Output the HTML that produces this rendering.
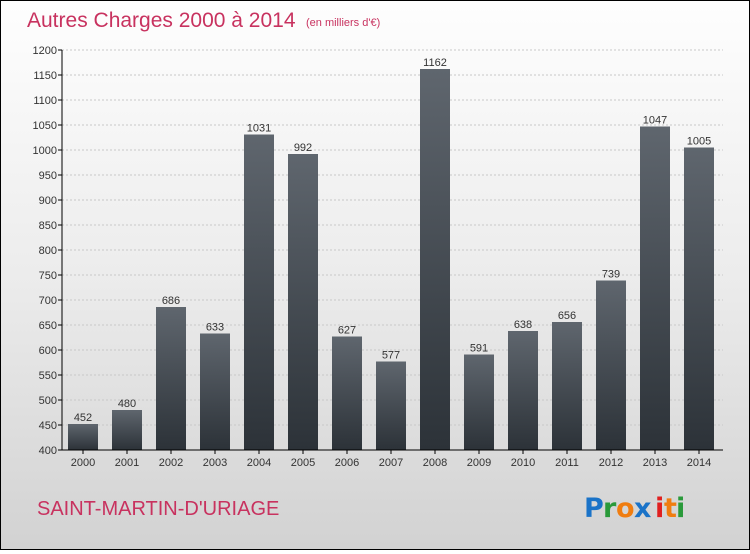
<!DOCTYPE html>
<html><head><meta charset="utf-8"><style>
html,body{margin:0;padding:0;}
body{width:750px;height:550px;overflow:hidden;}
#c{position:relative;width:748px;height:548px;border:1px solid #000;background:linear-gradient(#fefefe 0%,#ececec 50%,#d2d2d2 100%);font-family:"Liberation Sans",sans-serif;}
</style></head><body>
<div id="c">
<svg width="748" height="548" viewBox="0 0 748 548" xmlns="http://www.w3.org/2000/svg" id="svg">
<defs><linearGradient id="bg" x1="0" y1="0" x2="0" y2="1"><stop offset="0" stop-color="#5f666e"/><stop offset="1" stop-color="#2c3238"/></linearGradient></defs>
<text x="26" y="26" font-size="21" fill="#c8325f">Autres Charges 2000 à 2014</text>
<text x="305" y="25" font-size="11" fill="#c8325f">(en milliers d'€)</text>
<g id="grid"></g><g id="bars"></g><g id="axes"></g>
<text x="36" y="514" font-size="20" fill="#c8325f">SAINT-MARTIN-D'URIAGE</text>
<g font-size="27" font-family="'DejaVu Sans',sans-serif" font-weight="bold">
<text x="583" y="516" fill="#1a73c8">P</text><text x="602" y="516" fill="#2a9a3a">r</text><text x="615" y="516" fill="#f07d10">o</text><text x="633" y="516" fill="#1a73c8">x</text><text x="654" y="516" fill="#e02020">i</text><text x="663" y="516" fill="#f07d10">t</text><text x="675" y="516" fill="#2a9a3a">i</text></g>
</svg></div>
<script>
const years=["2000","2001","2002","2003","2004","2005","2006","2007","2008","2009","2010","2011","2012","2013","2014"];
const values=[452,480,686,633,1031,992,627,577,1162,591,638,656,739,1047,1005];
const yTicks=[400,450,500,550,600,650,700,750,800,850,900,950,1000,1050,1100,1150,1200];
const NS="http://www.w3.org/2000/svg";
const y0=449,yMin=400,yMax=1200,ph=400,x0=61,step=44,bw=30;
function yS(v){return y0-(v-yMin)/(yMax-yMin)*ph;}
function xS(i){return x0+21+i*step;}
function mk(t,a,p){const e=document.createElementNS(NS,t);for(const k in a)e.setAttribute(k,a[k]);p.appendChild(e);return e;}
const G=document.getElementById('grid'),B=document.getElementById('bars'),A=document.getElementById('axes');
yTicks.forEach(v=>{const y=yS(v);
const l=mk('line',{x1:x0,x2:722,y1:y,y2:y,stroke:'#c8c8c8','stroke-width':1,'stroke-dasharray':'2,2'},G);


const tk=mk('line',{x1:x0-4,x2:x0,y1:y,y2:y,stroke:'#000'},A);


const t=mk('text',{x:x0-5,y:y+4,'font-size':11,fill:'#333','text-anchor':'end'},A);t.textContent=v;

});
values.forEach((v,i)=>{const cx=xS(i),y=yS(v);
const r=mk('rect',{x:cx-bw/2,y:y,width:bw,height:y0-y,fill:'url(#bg)'},B);


const t=mk('text',{x:cx,y:y-3,'font-size':11,fill:'#333','text-anchor':'middle'},B);t.textContent=v;


const xl=mk('text',{x:cx,y:y0+16,'font-size':11,fill:'#333','text-anchor':'middle'},A);xl.textContent=years[i];


const xt=mk('line',{x1:cx,x2:cx,y1:y0,y2:y0+4,stroke:'#000'},A);

});
const ya=mk('line',{x1:x0,x2:x0,y1:yS(1200),y2:y0,stroke:'#000'},A);


const xa=mk('line',{x1:x0,x2:722,y1:y0,y2:y0,stroke:'#000'},A);


</script>
</body></html>
